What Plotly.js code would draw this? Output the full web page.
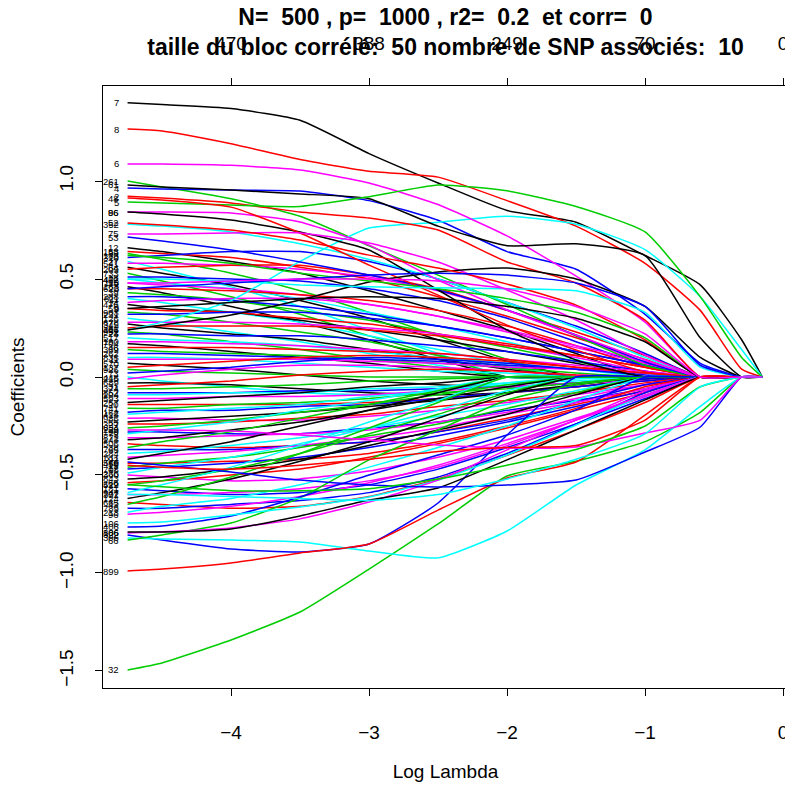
<!DOCTYPE html>
<html><head><meta charset="utf-8">
<script src="https://cdn.plot.ly/plotly-3.0.1.min.js"></script>
<style>html,body{margin:0;padding:0;overflow:hidden;background:#fff;width:785px;height:789px}</style>
</head><body><div id="chart" style="width:830px;height:789px"></div>
<script>
// log(lambda) grid at which the coefficient paths are sampled
const lambdaGrid = [-4.75,-4.5,-4,-3.5,-3,-2.5,-2,-1.5,-1,-0.6,-0.3,-0.15];
// number of non-zero coefficients shown on the top axis
const topTickPos = [-4,-3,-2,-1,0];
const dfLabels = ['470','388','249','70','0'];
const yTicks = [-1.5,-1,-0.5,0,0.5,1];

// paths listed in sextets (colour cycle black, red, green, blue, cyan, magenta)
const pathsUpper = [
[0.66,0.64,0.59,0.53,0.44,0.34,0.24,0.12,0,0,0,0],
[0.64,0.63,0.61,0.56,0.50,0.41,0.31,0.20,0.09,0,0,0],
[0.63,0.60,0.53,0.44,0.33,0.21,0.09,0,0,0,0,0],
[0.61,0.62,0.64,0.64,0.59,0.50,0.38,0.26,0.12,0,0,0],
[0.59,0.55,0.46,0.36,0.24,0.12,0,0,0,0,0,0],
[0.58,0.58,0.57,0.55,0.51,0.44,0.34,0.21,0.07,0,0,0],
[0.56,0.53,0.47,0.39,0.30,0.19,0.08,0,0,0,0,0],
[0.55,0.56,0.57,0.57,0.52,0.45,0.34,0.23,0.11,0,0,0],
[0.53,0.49,0.41,0.32,0.21,0.11,0,0,0,0,0,0],
[0.51,0.51,0.50,0.49,0.45,0.39,0.30,0.18,0.06,0,0,0],
[0.50,0.48,0.45,0.40,0.33,0.26,0.18,0.09,0,0,0,0],
[0.48,0.47,0.45,0.42,0.37,0.31,0.23,0.15,0.07,0,0,0],
[0.46,0.43,0.36,0.28,0.19,0.09,0,0,0,0,0,0],
[0.45,0.45,0.44,0.42,0.39,0.34,0.26,0.16,0.05,0,0,0],
[0.43,0.42,0.39,0.34,0.29,0.22,0.15,0.08,0,0,0,0],
[0.41,0.41,0.39,0.36,0.32,0.26,0.20,0.13,0.06,0,0,0],
[0.40,0.38,0.33,0.28,0.21,0.14,0.06,0,0,0,0,0],
[0.38,0.39,0.40,0.40,0.37,0.31,0.24,0.16,0.08,0,0,0],
[0.37,0.35,0.33,0.29,0.24,0.19,0.13,0.07,0,0,0,0],
[0.35,0.34,0.33,0.30,0.27,0.22,0.17,0.11,0.05,0,0,0],
[0.33,0.32,0.28,0.23,0.18,0.11,0.05,0,0,0,0,0],
[0.32,0.32,0.33,0.33,0.30,0.26,0.20,0.13,0.06,0,0,0],
[0.30,0.28,0.23,0.18,0.12,0.06,0,0,0,0,0,0],
[0.28,0.28,0.28,0.27,0.25,0.22,0.16,0.10,0.03,0,0,0],
[0.27,0.25,0.22,0.19,0.14,0.09,0.04,0,0,0,0,0],
[0.25,0.26,0.26,0.26,0.24,0.21,0.16,0.11,0.05,0,0,0],
[0.23,0.22,0.18,0.14,0.09,0.05,0,0,0,0,0,0],
[0.22,0.22,0.21,0.21,0.19,0.16,0.13,0.08,0.03,0,0,0],
[0.20,0.19,0.18,0.16,0.13,0.10,0.07,0.04,0,0,0,0],
[0.18,0.18,0.17,0.16,0.14,0.12,0.09,0.06,0.03,0,0,0],
[0.17,0.16,0.13,0.10,0.07,0.03,0,0,0,0,0,0],
[0.15,0.15,0.15,0.14,0.13,0.12,0.09,0.05,0.02,0,0,0],
[0.14,0.13,0.12,0.11,0.09,0.07,0.05,0.02,0,0,0,0],
[0.12,0.12,0.11,0.10,0.09,0.08,0.06,0.04,0.02,0,0,0],
[0.10,0.10,0.09,0.07,0.05,0.03,0.02,0,0,0,0,0],
[0.09,0.09,0.09,0.09,0.08,0.07,0.05,0.04,0.02,0,0,0]
];
const idsUpper = ['12','153','88','310','27','541','64','209','733','18','402','95','167','620','39','288','811','14','476','59','903','231','126','678','345','81','952','23','517','190','704','46','389','262','835','11'];

const pathsMiddle = [
[0.07,0.06,0.04,0.01,-0.02,-0.04,-0.05,-0.03,0,0,0,0],
[0.05,0.06,0.08,0.10,0.11,0.10,0.08,0.05,0.02,0,0,0],
[0.04,0.03,0.02,0.01,0,0,0,0,0,0,0,0],
[0.02,0.03,0.05,0.08,0.10,0.09,0.07,0.04,0.01,0,0,0],
[0.00,-0.02,-0.05,-0.08,-0.09,-0.07,-0.04,-0.01,0,0,0,0],
[-0.01,0.01,0.04,0.06,0.06,0.05,0.03,0.01,0,0,0,0],
[-0.03,-0.03,-0.04,-0.06,-0.08,-0.09,-0.08,-0.05,-0.01,0,0,0],
[-0.05,-0.04,-0.02,0.01,0.03,0.04,0.03,0.01,0,0,0,0],
[-0.06,-0.06,-0.05,-0.04,-0.02,-0.01,0,0,0,0,0,0],
[-0.08,-0.08,-0.08,-0.07,-0.07,-0.06,-0.05,-0.03,-0.01,0,0,0],
[-0.09,-0.09,-0.08,-0.08,-0.06,-0.05,-0.03,-0.02,0,0,0,0],
[-0.11,-0.11,-0.10,-0.10,-0.09,-0.07,-0.05,-0.03,-0.02,0,0,0]
];
const idsMiddle = ['570','137','926','73','448','215','689','31','374','852','104','593'];

const pathsLower = [
[-0.13,-0.12,-0.10,-0.08,-0.05,-0.03,0,0,0,0,0,0],
[-0.14,-0.14,-0.14,-0.14,-0.13,-0.11,-0.08,-0.05,-0.02,0,0,0],
[-0.16,-0.16,-0.14,-0.13,-0.11,-0.08,-0.06,-0.03,0,0,0,0],
[-0.18,-0.17,-0.17,-0.15,-0.14,-0.11,-0.08,-0.05,-0.02,0,0,0],
[-0.19,-0.18,-0.16,-0.14,-0.10,-0.07,-0.03,0,0,0,0,0],
[-0.21,-0.21,-0.22,-0.22,-0.20,-0.17,-0.13,-0.09,-0.04,0,0,0],
[-0.23,-0.22,-0.20,-0.18,-0.15,-0.12,-0.08,-0.04,0,0,0,0],
[-0.24,-0.24,-0.23,-0.21,-0.19,-0.15,-0.12,-0.08,-0.03,0,0,0],
[-0.26,-0.25,-0.22,-0.18,-0.14,-0.09,-0.04,0,0,0,0,0],
[-0.28,-0.28,-0.29,-0.29,-0.26,-0.23,-0.17,-0.12,-0.06,0,0,0],
[-0.29,-0.27,-0.23,-0.17,-0.12,-0.06,0,0,0,0,0,0],
[-0.31,-0.31,-0.30,-0.29,-0.27,-0.23,-0.18,-0.11,-0.04,0,0,0],
[-0.32,-0.31,-0.27,-0.23,-0.17,-0.11,-0.05,0,0,0,0,0],
[-0.34,-0.35,-0.36,-0.35,-0.33,-0.28,-0.21,-0.14,-0.07,0,0,0],
[-0.36,-0.33,-0.28,-0.21,-0.14,-0.07,0,0,0,0,0,0],
[-0.37,-0.37,-0.37,-0.35,-0.33,-0.28,-0.22,-0.13,-0.04,0,0,0],
[-0.39,-0.38,-0.35,-0.31,-0.26,-0.20,-0.14,-0.07,0,0,0,0],
[-0.41,-0.40,-0.38,-0.35,-0.31,-0.26,-0.19,-0.13,-0.06,0,0,0],
[-0.42,-0.39,-0.33,-0.25,-0.17,-0.08,0,0,0,0,0,0],
[-0.44,-0.44,-0.43,-0.42,-0.39,-0.33,-0.25,-0.16,-0.05,0,0,0],
[-0.46,-0.44,-0.41,-0.36,-0.30,-0.24,-0.16,-0.08,0,0,0,0],
[-0.47,-0.46,-0.44,-0.41,-0.36,-0.30,-0.23,-0.15,-0.07,0,0,0],
[-0.49,-0.46,-0.41,-0.34,-0.26,-0.17,-0.07,0,0,0,0,0],
[-0.50,-0.51,-0.53,-0.52,-0.48,-0.41,-0.32,-0.21,-0.10,0,0,0],
[-0.52,-0.51,-0.47,-0.42,-0.35,-0.27,-0.19,-0.09,0,0,0,0],
[-0.54,-0.53,-0.50,-0.47,-0.41,-0.34,-0.26,-0.17,-0.08,0,0,0],
[-0.55,-0.53,-0.47,-0.39,-0.29,-0.19,-0.08,0,0,0,0,0],
[-0.57,-0.58,-0.60,-0.59,-0.55,-0.47,-0.36,-0.24,-0.11,0,0,0],
[-0.59,-0.55,-0.46,-0.35,-0.23,-0.12,0,0,0,0,0,0],
[-0.60,-0.60,-0.59,-0.57,-0.53,-0.46,-0.35,-0.22,-0.07,0,0,0],
[-0.62,-0.59,-0.52,-0.43,-0.33,-0.21,-0.09,0,0,0,0,0],
[-0.64,-0.65,-0.67,-0.66,-0.61,-0.52,-0.40,-0.27,-0.13,0,0,0],
[-0.65,-0.61,-0.51,-0.39,-0.26,-0.13,0,0,0,0,0,0],
[-0.67,-0.67,-0.65,-0.63,-0.59,-0.51,-0.39,-0.24,-0.08,0,0,0],
[-0.69,-0.66,-0.62,-0.55,-0.46,-0.36,-0.25,-0.12,0,0,0,0],
[-0.70,-0.69,-0.66,-0.61,-0.54,-0.45,-0.34,-0.22,-0.10,0,0,0]
];
const idsLower = ['257','20','741','162','418','986','55','327','634','199','79','872','143','506','38','765','284','611','92','459','17','708','236','360','843','66','529','181','947','302','124','665','43','789','213','96'];

const pathsOutlier = [
[1.40,1.39,1.37,1.31,1.14,0.99,0.85,0.79,0.62,0.47,0.19,0],
[1.265,1.255,1.19,1.11,1.05,1.02,0.90,0.77,0.58,0.34,0.04,0],
[1.0,0.97,0.91,0.82,0.67,0.52,0.37,0.21,0.06,0,0,0],
[0.964,0.96,0.954,0.949,0.90,0.80,0.64,0.55,0.32,0.07,0,0],
[0.24,0.28,0.39,0.59,0.76,0.79,0.82,0.78,0.65,0.41,0.14,0],
[1.087,1.087,1.08,1.056,0.99,0.88,0.72,0.515,0.28,0,0,0],
[0.98,0.97,0.954,0.934,0.91,0.77,0.67,0.68,0.62,0.20,0,0],
[0.923,0.913,0.888,0.842,0.811,0.75,0.587,0.48,0.29,0,0,0],
[0.893,0.888,0.878,0.87,0.92,0.98,0.95,0.87,0.74,0.41,0.10,0],
[0.714,0.694,0.648,0.587,0.52,0.444,0.342,0.214,0.077,0,0,0],
[0.78,0.77,0.74,0.68,0.60,0.50,0.38,0.25,0.10,0,0,0],
[0.842,0.842,0.837,0.791,0.673,0.495,0.342,0.214,0.087,0,0,0],
[0.842,0.832,0.801,0.74,0.648,0.444,0.24,0.087,0,0,0,0],
[0.913,0.903,0.867,0.735,0.571,0.418,0.265,0.138,0.026,0,0,0],
[-1.495,-1.459,-1.342,-1.199,-0.98,-0.75,-0.505,-0.43,-0.33,-0.18,0,0],
[-0.806,-0.832,-0.878,-0.893,-0.852,-0.643,-0.296,0,0,0,0,0],
[-0.821,-0.827,-0.832,-0.842,-0.888,-0.923,-0.786,-0.551,-0.372,-0.15,0,0],
[0.73,0.73,0.735,0.735,0.684,0.587,0.444,0.291,0.112,0,0,0],
[0.24,0.265,0.316,0.393,0.485,0.536,0.556,0.50,0.36,0.10,0,0],
[0.786,0.776,0.75,0.699,0.622,0.556,0.474,0.367,0.189,0,0,0],
[-0.832,-0.806,-0.745,-0.617,-0.423,-0.27,-0.117,-0.04,0,0,0,0],
[-0.765,-0.76,-0.709,-0.612,-0.50,-0.398,-0.296,-0.168,0,0,0,0],
[-0.745,-0.74,-0.704,-0.663,-0.612,-0.526,-0.398,-0.245,-0.092,0,0,0],
[-0.796,-0.79,-0.77,-0.724,-0.638,-0.526,-0.372,-0.219,-0.092,0,0,0],
[-0.791,-0.791,-0.776,-0.709,-0.628,-0.566,-0.423,-0.27,-0.117,0,0,0],
[-0.99,-0.98,-0.949,-0.898,-0.852,-0.679,-0.515,-0.434,-0.194,0,0,0],
[0.62,0.61,0.58,0.53,0.49,0.45,0.40,0.33,0.20,0,0,0],
[-0.434,-0.45,-0.485,-0.526,-0.551,-0.561,-0.551,-0.526,-0.383,-0.255,0,0],
[0.50,0.50,0.49,0.47,0.46,0.455,0.45,0.44,0.33,0.05,0,0],
[-0.27,-0.27,-0.276,-0.296,-0.321,-0.347,-0.362,-0.357,-0.286,-0.22,0,0],
[0.35,0.36,0.38,0.40,0.41,0.40,0.36,0.30,0.18,0,0,0],
[-0.45,-0.46,-0.47,-0.45,-0.42,-0.38,-0.36,-0.35,-0.22,0,0,0],
[-0.55,-0.56,-0.58,-0.58,-0.57,-0.52,-0.45,-0.37,-0.25,-0.05,0,0],
[0.45,0.46,0.48,0.50,0.52,0.53,0.52,0.48,0.36,0.06,0,0],
[-0.60,-0.60,-0.61,-0.62,-0.63,-0.60,-0.52,-0.42,-0.29,-0.05,0,0],
[0.48,0.48,0.49,0.50,0.50,0.49,0.45,0.36,0.22,0,0,0]
];
const idsOutlier = ['7','8','261','4','417','6','61','2','5','53','352','86','96','48','32','322','306','75','206','52','66','406','106','186','806','899','133','540','471','229','9','15','412','3','77','118'];

const palette = ['#000000','#FF0000','#00CD00','#0000FF','#00FFFF','#FF00FF'];
const FONT = 'Liberation Sans, Arial, Helvetica, sans-serif';

const traces = [];
const annotations = [];
function addGroup(paths, ids, xa){
  paths.forEach((p,i)=>{
    traces.push({x:lambdaGrid, y:p, type:'scatter', mode:'lines', xaxis:xa,
      line:{color:palette[i%6], width:1.5, shape:'spline', smoothing:0.5},
      hoverinfo:'skip', showlegend:false});
    annotations.push({x:lambdaGrid[0], y:p[0], xref:'x', yref:'y', text:ids[i],
      showarrow:false, xanchor:'right', yanchor:'middle', xshift:-7,
      font:{family:FONT, size:9.5, color:'#000'}});
  });
}
addGroup(pathsUpper, idsUpper, 'x');
addGroup(pathsMiddle, idsMiddle, 'x');
addGroup(pathsLower, idsLower, 'x');
addGroup(pathsOutlier, idsOutlier, 'x2');

const xr = [-4.928, 0.036];
const axisCommon = {showgrid:false, zeroline:false, ticks:'outside', ticklen:7, tickwidth:1,
  tickcolor:'#000', tickfont:{family:FONT, size:19, color:'#000'}};
const layout = {
  width:830, height:789, autosize:false,
  margin:{l:103, r:42, t:86, b:101},
  paper_bgcolor:'#fff', plot_bgcolor:'#fff',
  font:{family:FONT, color:'#000'},
  title:{text:'N=\u00a0 500 , p=\u00a0 1000 , r2=\u00a0 0.2\u00a0 et corr=\u00a0 0<br>taille du bloc corrélé:\u00a0 50 nombre de SNP associés:\u00a0 10',
    font:{family:FONT, size:23, color:'#000', weight:'bold'},
    x:0.5, xref:'paper', xanchor:'center', y:0.968, yref:'container', yanchor:'top'},
  xaxis:Object.assign({}, axisCommon, {range:xr, tickvals:topTickPos, showline:true, mirror:true,
    linecolor:'#000', linewidth:1, ticklabelstandoff:20,
    title:{text:'Log Lambda', font:{family:FONT, size:19, color:'#000'}, standoff:22}}),
  xaxis2:Object.assign({}, axisCommon, {range:xr, overlaying:'x', side:'top', anchor:'y',
    tickvals:topTickPos, ticktext:dfLabels, showline:false, ticklabelstandoff:20}),
  yaxis:Object.assign({}, axisCommon, {range:[-1.587,1.485], tickvals:yTicks, tickformat:'.1f',
    tickangle:-90, showline:true, mirror:true, linecolor:'#000', linewidth:1, ticklabelstandoff:14,
    title:{text:'Coefficients', font:{family:FONT, size:19, color:'#000'}, standoff:26}}),
  annotations:annotations,
  showlegend:false
};
Plotly.newPlot('chart', traces, layout, {displayModeBar:false, staticPlot:true});
</script></body></html>
